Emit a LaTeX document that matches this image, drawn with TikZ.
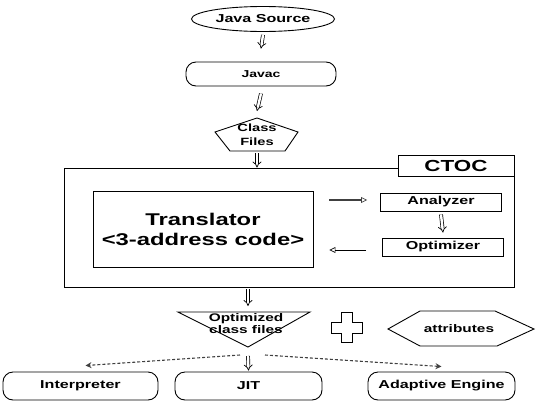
\documentclass[tikz,border=0pt]{standalone}
\usepackage{fontspec}
\setmainfont{Liberation Sans}[FakeStretch=1.4]
\usetikzlibrary{arrows.meta, positioning, shapes.geometric, calc}

\begin{document}
\begin{tikzpicture}[x=1pt, y=-1pt, line width=0.9pt,
  txt/.style={font=\fontsize{11.5}{12}\selectfont\bfseries, align=center, inner sep=0pt},
  stage/.style={txt, draw, rounded corners=10pt, minimum height=24pt},
  module/.style={txt, draw, minimum width=121pt, minimum height=18pt},
  flow/.style={double, double distance=2.4pt, line width=0.7pt, -{Implies}},
  fwd/.style={line width=2.2pt, gray!50!black, -{Triangle[open, length=6pt, width=6pt, line width=0.7pt]}},
  back/.style={line width=0.9pt, -{Triangle[open, length=6pt, width=6pt, line width=0.7pt]}},
  spread/.style={gray!50!black, densely dashed, line width=1.1pt, -{Stealth[open, length=6pt, width=6pt]}}
]
  \useasboundingbox (0,0) rectangle (540,407);

  % Source side (javac front end)
  \node[txt, draw, ellipse, minimum width=143pt, minimum height=25pt] (src) at (263,19) {Java Source};
  \node[stage, minimum width=150pt, font=\fontsize{10}{11}\selectfont\bfseries] (javac) at (261,74) {Javac};
  \node[txt, font=\fontsize{10.5}{14}\selectfont\bfseries] (cls) at (257,135) {Class\\Files};
  \coordinate (clstop) at ($(cls)+(0,-17)$);
  \coordinate (clsbot) at ($(cls)+(0,16)$);
  \draw (clstop) -- ($(cls)+(-42,-3)$) -- ($(cls)+(-27,16)$) -- ($(cls)+(28,16)$) -- ($(cls)+(41,-3)$) -- cycle;

  \draw[flow] ([yshift=-3pt]src.south) -- ([yshift=13pt]javac.north);
  \draw[flow] ([yshift=-7pt]javac.south) -- ([yshift=7pt]clstop);

  % CTOC frame
  \node[draw, minimum width=450pt, minimum height=119pt] (ctoc) at (289,227.5) {};
  \node[txt, draw, fill=white, font=\fontsize{16}{18}\selectfont\bfseries,
        minimum width=116pt, minimum height=21pt] (ctoclabel) at (456,165.5) {CTOC};
  \draw[flow] ([yshift=-2pt]clsbot) -- (clsbot |- ctoc.north);

  \node[txt, draw, font=\fontsize{17}{20}\selectfont\bfseries,
        minimum width=220pt, minimum height=76pt] (trans) at (203,229) {Translator\\<3-address code>};
  \node[module] (ana) at (441,202) {Analyzer};
  \node[module] (opt) at (443,247) {Optimizer};

  \draw[fwd] ($(trans.east |- ana)+(16,-2)$) -- ($(ana.west)+(-13,-2)$);
  \draw[back] ($(opt.west)+(-16,3)$) -- ($(trans.east |- opt)+(16,3)$);
  \draw[flow] ([yshift=-3pt]ana.south) -- ([yshift=5pt]opt.north);

  % Output of CTOC
  \coordinate (tl) at (178,312);
  \coordinate (tr) at (310,312);
  \coordinate (tip) at (248,347);
  \draw (tl) -- (tr) -- (tip) -- cycle;
  \node[txt, font=\fontsize{11}{12}\selectfont\bfseries] (optf) at (246,324) {Optimized\\class files};
  \draw[flow] ($(ctoc.south -| tip)+(0,2)$) -- ($(tip |- tl)+(0,-6)$);

  \coordinate (plus) at (347,327);
  \draw[shift={(plus)}] (-5.5,-15) -- (5.5,-15) -- (5.5,-5) -- (15.5,-5) -- (15.5,6) -- (5.5,6)
    -- (5.5,15) -- (-5.5,15) -- (-5.5,6) -- (-15.5,6) -- (-15.5,-5) -- (-5.5,-5) -- cycle;

  \node[txt, font=\fontsize{11}{12}\selectfont\bfseries] (attr) at (459,329) {attributes};
  \draw ($(attr)+(-71,0)$) -- ($(attr)+(-39,-18)$) -- ($(attr)+(36,-18)$) -- ($(attr)+(75,0)$)
    -- ($(attr)+(38,17)$) -- ($(attr)+(-39,17)$) -- cycle;

  % Execution engines
  \node[stage, minimum width=155pt, minimum height=28pt] (interp) at (80.5,386) {Interpreter};
  \node[stage, minimum width=147pt, minimum height=28pt] (jit) at (248.5,386) {JIT};
  \node[stage, minimum width=147pt, minimum height=28pt] (adapt) at (441.5,386) {Adaptive Engine};

  \coordinate (sl) at (240,355);
  \coordinate (sr) at (265,355);
  \draw[flow] ($(tip)+(0,9)$) -- ($(jit.north)+(0,-1)$);
  \draw[spread] (sl) -- ($(interp.north)+(5,-6)$);
  \draw[spread] (sr) -- ($(adapt.north)+(0,-5)$);
\end{tikzpicture}
\end{document}
